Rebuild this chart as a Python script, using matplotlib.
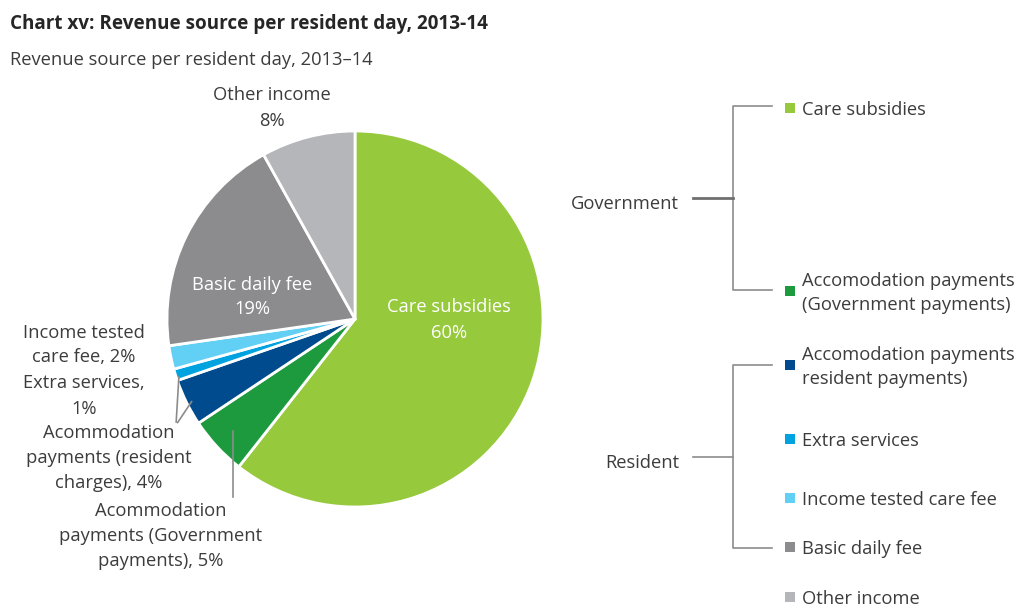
import numpy as np
import matplotlib
matplotlib.use("Agg")
import matplotlib.pyplot as plt
from matplotlib.patches import Rectangle

plt.rcParams['font.family'] = ['Open Sans', 'DejaVu Sans']

# revenue shares, in pie order (clockwise from 12 o'clock)
sources = ['Care subsidies', 'Accomodation payments (Government payments)',
           'Accomodation payments resident payments)', 'Extra services',
           'Income tested care fee', 'Basic daily fee', 'Other income']
shares = [60, 5, 4, 1, 2, 19, 8]
colors = ['#97c93d', '#1e9a3e', '#004b8d', '#00a3e0', '#62cff4',
          '#8c8c8f', '#b5b6b9']

legend_labels = ['Care subsidies', 'Accomodation payments\n(Government payments)',
                 'Accomodation payments\nresident payments)', 'Extra services',
                 'Income tested care fee', 'Basic daily fee', 'Other income']

W, H = 1022, 611
TXT = '#3c3c3c'
LINE = '#8c8c8c'
FS = 13.2


def Y(y):
    # pixel rows counted from the top
    return H - y


def TY(y):
    # text rows: nudge down a little so cap height sits centred
    return H - y - 2


fig = plt.figure(figsize=(W / 100, H / 100), dpi=100)
ax = fig.add_axes([0, 0, 1, 1])

cx, cy, R = 355, 319, 188
wedges, _ = ax.pie(shares, colors=colors, startangle=90, counterclock=False,
                   center=(cx, Y(cy)), radius=R,
                   wedgeprops=dict(edgecolor='white', linewidth=2))
ax.set_xlim(0, W)
ax.set_ylim(0, H)
ax.set_aspect('equal')
ax.axis('off')


def on_wedge(i, frac):
    w = wedges[i]
    t = np.deg2rad((w.theta1 + w.theta2) / 2)
    return cx + frac * R * np.cos(t), Y(cy) + frac * R * np.sin(t)


# titles
ax.text(10, TY(22), 'Chart xv: Revenue source per resident day, 2013-14',
        fontsize=13.6, fontweight='bold', color='#262626', va='center')
ax.text(10, TY(58), 'Revenue source per resident day, 2013\u201314',
        fontsize=FS, color=TXT, va='center')

# labels inside and around the pie
lab = dict(fontsize=FS, ha='center', va='center', linespacing=1.5)
ax.text(449, TY(318), 'Care subsidies\n60%', color='white', **lab)
ax.text(252, TY(295), 'Basic daily fee\n19%', color='white', **lab)
ax.text(272, TY(106), 'Other income\n8%', color=TXT, **lab)
ax.text(84, TY(343), 'Income tested\ncare fee, 2%', color=TXT, **lab)
ax.text(84, TY(394), 'Extra services,\n1%', color=TXT, **lab)
ax.text(109, TY(456), 'Acommodation\npayments (resident\ncharges), 4%', color=TXT, **lab)
ax.text(161, TY(534), 'Acommodation\npayments (Government\npayments), 5%', color=TXT, **lab)

# leader lines
for i, frac, end in [(3, 0.98, (176, Y(425))), (2, 0.96, (176, Y(425)))]:
    ax.annotate('', xy=on_wedge(i, frac), xytext=end,
                arrowprops=dict(arrowstyle='-', color=LINE, lw=1.2))
gx, gy = on_wedge(1, 0.88)
ax.plot([gx, gx], [gy, Y(497)], color=LINE, lw=1.2)

# legend
sq_x = 785
rows = [108, 291, 365, 439, 498, 547, 597]
for lbl, c, yy in zip(legend_labels, colors, rows):
    ax.add_patch(Rectangle((sq_x, Y(yy) - 5), 10, 10, color=c, lw=0))
    ax.text(802, TY(yy), lbl, fontsize=FS, color=TXT, va='center', linespacing=1.5)

# group brackets
bx, tx = 733, 772
for top, bot, mid, name, lw, c in [(106, 290, 198, 'Government', 2.0, '#6f6f6f'),
                                   (365, 548, 457, 'Resident', 1.2, LINE)]:
    ax.plot([tx, bx, bx, tx], [Y(top), Y(top), Y(bot), Y(bot)], color=LINE, lw=1.2)
    ax.plot([693, bx], [Y(mid), Y(mid)], color=c, lw=lw)
    ax.text(679, TY(mid + 4), name, fontsize=FS, color=TXT, ha='right', va='center')

fig.savefig('out.png', dpi=100, facecolor='white')
